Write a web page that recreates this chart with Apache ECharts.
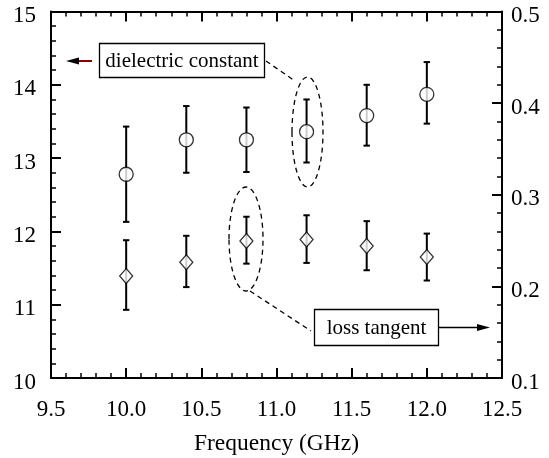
<!DOCTYPE html>
<html><head><meta charset="utf-8">
<script src="https://cdn.jsdelivr.net/npm/echarts@6/dist/echarts.min.js"></script>
<style>html,body{margin:0;padding:0;background:#fff}#c{width:549px;height:458px}</style>
</head><body><div id="c"></div>
<script>
var freq = [10.0, 10.4, 10.8, 11.2, 11.6, 12.0];
// dielectric constant (left axis)
var dcVal  = [12.78, 13.25, 13.25, 13.36, 13.58, 13.87];
var dcLow  = [12.13, 12.80, 12.81, 12.94, 13.17, 13.47];
var dcHigh = [13.43, 13.71, 13.69, 13.80, 14.00, 14.31];
// loss tangent (plotted on the left scale; right axis = 0.1 + (left-10)*0.08)
var ltVal  = [11.39, 11.58, 11.87, 11.89, 11.80, 11.65];
var ltLow  = [10.93, 11.24, 11.56, 11.57, 11.47, 11.33];
var ltHigh = [11.88, 11.94, 12.20, 12.22, 12.14, 11.97];
var xTicks = ['9.5','10.0','10.5','11.0','11.5','12.0','12.5'];

var FONT = 'Liberation Serif';
function pts(v){ return freq.map(function(f,i){ return [f, v[i]]; }); }
function errs(lo,hi){ return freq.map(function(f,i){ return [f, lo[i], hi[i]]; }); }
function errRender(params, api){
  var x = api.value(0), lo = api.value(1), hi = api.value(2);
  var pl = api.coord([x, lo]), ph = api.coord([x, hi]);
  var w = 3.2, st = {stroke:'#000', lineWidth:2};
  return {type:'group', children:[
    {type:'line', shape:{x1:pl[0],y1:pl[1],x2:ph[0],y2:ph[1]}, style:st},
    {type:'line', shape:{x1:pl[0]-w,y1:pl[1],x2:pl[0]+w,y2:pl[1]}, style:st},
    {type:'line', shape:{x1:ph[0]-w,y1:ph[1],x2:ph[0]+w,y2:ph[1]}, style:st}
  ]};
}
var axisLine = {show:true, lineStyle:{color:'#000', width:2}};
var tick = {show:true, inside:true, length:10, lineStyle:{color:'#000', width:2}};
var minor = {show:true, splitNumber:5, length:5, lineStyle:{color:'#000', width:1.5}};
var lbl = {color:'#000', fontFamily:FONT, fontSize:23};

var chart = echarts.init(document.getElementById('c'), null, {renderer:'canvas'});
chart.setOption({
  animation:false,
  backgroundColor:'#fff',
  grid:{left:51, right:47, top:11.5, bottom:80, containLabel:false, outerBoundsMode:'none'},
  xAxis:[
    {type:'value', min:9.5, max:12.5, interval:0.5, position:'bottom',
     axisLine:axisLine, axisTick:tick, minorTick:minor, splitLine:{show:false},
     axisLabel:Object.assign({margin:20, formatter:function(v){return v.toFixed(1);}}, lbl),
     name:'Frequency (GHz)', nameLocation:'middle', nameGap:54,
     nameTextStyle:{color:'#000', fontFamily:FONT, fontSize:23.5}},
    {type:'value', min:9.5, max:12.5, interval:0.5, position:'top',
     axisLine:axisLine, axisTick:tick, minorTick:minor, splitLine:{show:false},
     axisLabel:{show:false}}
  ],
  yAxis:[
    {type:'value', min:10, max:15, interval:1, position:'left',
     axisLine:axisLine, axisTick:tick, minorTick:minor, splitLine:{show:false},
     axisLabel:Object.assign({margin:15, verticalAlign:'top', lineHeight:9}, lbl)},
    {type:'value', min:0.1, max:0.5, interval:0.1, position:'right',
     axisLine:axisLine, axisTick:tick, minorTick:minor, splitLine:{show:false},
     axisLabel:Object.assign({margin:9, verticalAlign:'top', lineHeight:9, formatter:function(v){return v.toFixed(1);}}, lbl)}
  ],
  series:[
    {type:'custom', xAxisIndex:0, yAxisIndex:0, data:errs(dcLow,dcHigh), renderItem:errRender, z:2},
    {type:'custom', xAxisIndex:0, yAxisIndex:0, data:errs(ltLow,ltHigh), renderItem:errRender, z:2},
    {type:'scatter', xAxisIndex:0, yAxisIndex:0, data:pts(dcVal), symbol:'circle', symbolSize:14,
     itemStyle:{color:'#fff', borderColor:'#000', borderWidth:1.3}, z:5},
    {type:'scatter', xAxisIndex:0, yAxisIndex:0, data:pts(ltVal), symbol:'diamond', symbolSize:[13,15],
     itemStyle:{color:'#fff', borderColor:'#000', borderWidth:1.3}, z:5}
  ],
  graphic:[
    {type:'rect', shape:{x:99.5, y:43.5, width:165, height:34}, style:{fill:'#fff', stroke:'#000', lineWidth:1.3}, z:10},
    {type:'text', x:182, y:61, style:{text:'dielectric constant', font:'21px "Liberation Serif"', fill:'#000', align:'center', verticalAlign:'middle'}, z:11},
    {type:'line', shape:{x1:79, y1:61, x2:92, y2:61}, style:{stroke:'#8b0000', lineWidth:2}, z:10},
    {type:'polygon', shape:{points:[[66,61],[79,57.5],[79,64.5]]}, style:{fill:'#000'}, z:10},
    {type:'line', shape:{x1:266, y1:61, x2:295, y2:81}, style:{stroke:'#000', lineWidth:1.3, lineDash:[5,4]}, z:10},
    {type:'ellipse', shape:{cx:307.5, cy:132, rx:15.5, ry:55}, style:{fill:'none', stroke:'#000', lineWidth:1.3, lineDash:[5,4]}, z:10},
    {type:'ellipse', shape:{cx:246, cy:239, rx:17, ry:52}, style:{fill:'none', stroke:'#000', lineWidth:1.3, lineDash:[5,4]}, z:10},
    {type:'line', shape:{x1:250, y1:291, x2:311, y2:331}, style:{stroke:'#000', lineWidth:1.3, lineDash:[5,4]}, z:10},
    {type:'rect', shape:{x:314.5, y:309.5, width:124, height:36}, style:{fill:'#fff', stroke:'#000', lineWidth:1.3}, z:10},
    {type:'text', x:376.5, y:328, style:{text:'loss tangent', font:'21px "Liberation Serif"', fill:'#000', align:'center', verticalAlign:'middle'}, z:11},
    {type:'line', shape:{x1:439, y1:327.5, x2:478, y2:327.5}, style:{stroke:'#000', lineWidth:1.3}, z:10},
    {type:'polygon', shape:{points:[[490,327.5],[477,324],[477,331]]}, style:{fill:'#000'}, z:10}
  ]
});
</script></body></html>
